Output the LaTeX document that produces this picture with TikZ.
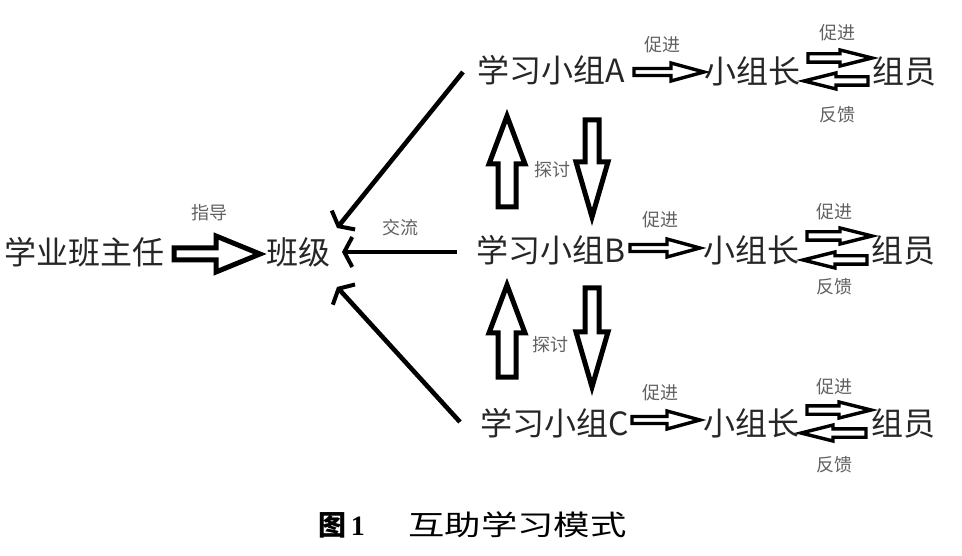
\documentclass[tikz,border=0pt]{standalone}
\usepackage{fontspec}
\usepackage{graphicx}
\setmainfont{Noto Sans CJK SC}
\newfontfamily\serifnum{Liberation Serif}
\usetikzlibrary{calc,arrows.meta}

\tikzset{
  big/.style={font=\fontsize{32}{32}\selectfont, inner sep=0pt, text=black!85},
  lab/.style={font=\fontsize{18}{18}\selectfont, inner sep=0pt, text=black!62},
  fatbox/.style={draw=black, fill=white, line width=5pt, line join=miter, miter limit=12},
  fatthin/.style={draw=black, fill=white, line width=3.4pt, line join=miter, miter limit=12},
  conv/.style={draw=black, line width=4.6pt, -{Straight Barb[length=8pt,width=30pt,line width=4pt]}},
}

% #1 style, #2 from, #3 to, #4 body half width, #5 head half width, #6 head length
\newcommand\fatarr[6]{%
  \path[#1] let \p1=#2, \p2=#3,
    \n1={atan2(\y2-\y1,\x2-\x1)}, \n2={veclen(\x2-\x1,\y2-\y1)} in
    [shift={(\p1)}, rotate=\n1]
    (0,#4) -- ({\n2-#6},#4) -- ({\n2-#6},#5) -- (\n2,0) --
    ({\n2-#6},-#5) -- ({\n2-#6},-#4) -- (0,-#4) -- cycle;}

\begin{document}
\begin{tikzpicture}[x=1pt,y=-1pt]
\useasboundingbox (0,0) rectangle (962,556);
\fill[white] (0,0) rectangle (962,556);

% main labels
\node[big] (t0)  at (85,252)  {学业班主任};
\node[big] (ban) at (298,252) {班级};
\node[big] (gA)  at (551,70)  {学习小组A};
\node[big] (gB)  at (551,250) {学习小组B};
\node[big] (gC)  at (555,423) {学习小组C};
\node[big] (lA)  at (752,71)  {小组长};
\node[big] (lB)  at (751,250) {小组长};
\node[big] (lC)  at (751,423) {小组长};
\node[big] (mA)  at (904,71)  {组员};
\node[big] (mB)  at (903,250) {组员};
\node[big] (mC)  at (903,423) {组员};

% small labels
\node[lab] (zd)  at (209,213) {指导};
\node[lab] (jl)  at (400,228) {交流};
\node[lab] (td1) at (552,170) {探讨};
\node[lab] (td2) at (550,345) {探讨};
\node[lab] (cA)  at (662,45)  {促进};
\node[lab] (cB)  at (660,220) {促进};
\node[lab] (cC)  at (660,393) {促进};
\node[lab] (cA2) at (837,33)  {促进};
\node[lab] (cB2) at (834,212) {促进};
\node[lab] (cC2) at (834,387) {促进};
\node[lab] (fA)  at (837,115) {反馈};
\node[lab] (fB)  at (834,287) {反馈};
\node[lab] (fC)  at (834,465) {反馈};

% guidance arrow
\fatarr{fatbox}{($(t0)+(89,2)$)}{($(ban)+(-38,2)$)}{6}{18}{44}

% converging arrows into class
\draw[conv] ($(gA)+(-88,2)$) -- ($(ban)+(39,-24)$);
\draw[conv] ($(gB)+(-94,2)$) -- ($(ban)+(44,0)$);
\draw[conv] ($(gC)+(-95,-1)$) -- ($(ban)+(39,35)$);

% vertical discussion arrows
\fatarr{fatbox}{($(gB)+(-44,-43)$)}{($(gA)+(-44,46)$)}{9}{18}{48}
\fatarr{fatbox}{($(gA)+(41,50)$)}{($(gB)+(41,-33)$)}{7}{16}{55}
\fatarr{fatbox}{($(gC)+(-48,-46)$)}{($(gB)+(-44,35)$)}{9}{18}{48}
\fatarr{fatbox}{($(gB)+(41,38)$)}{($(gC)+(37,-36)$)}{7}{16}{55}

% promote arrows group -> leader
\fatarr{fatthin}{($(gA)+(83,2)$)}{($(lA)+(-48,1)$)}{3.5}{9}{33}
\fatarr{fatthin}{($(gB)+(79,-2)$)}{($(lB)+(-51,-2)$)}{3.5}{9}{33}
\fatarr{fatthin}{($(gC)+(77,-3)$)}{($(lC)+(-51,-3)$)}{3.5}{9}{33}

% leader <-> members
\fatarr{fatthin}{($(lA)+(56,-13)$)}{($(mA)+(-32,-13)$)}{4.2}{8}{32}
\fatarr{fatthin}{($(mA)+(-36,10)$)}{($(lA)+(52,10)$)}{4.2}{8}{32}
\fatarr{fatthin}{($(lB)+(56,-14)$)}{($(mB)+(-31,-14)$)}{4.2}{8}{32}
\fatarr{fatthin}{($(mB)+(-36,10)$)}{($(lB)+(52,10)$)}{4.2}{8}{32}
\fatarr{fatthin}{($(lC)+(56,-13)$)}{($(mC)+(-32,-13)$)}{4.2}{8}{32}
\fatarr{fatthin}{($(mC)+(-37,10)$)}{($(lC)+(50,10)$)}{4.2}{8}{32}

% caption
\node[inner sep=0pt, font=\fontsize{28}{28}\selectfont\bfseries, anchor=west] (capn) at (318,525) {图{\serifnum\,1}};
\node[inner sep=0pt, font=\fontsize{28}{28}\selectfont, anchor=west] (capt) at (408,525) {\scalebox{1.3}[1]{互助学习模式}};
\end{tikzpicture}
\end{document}
